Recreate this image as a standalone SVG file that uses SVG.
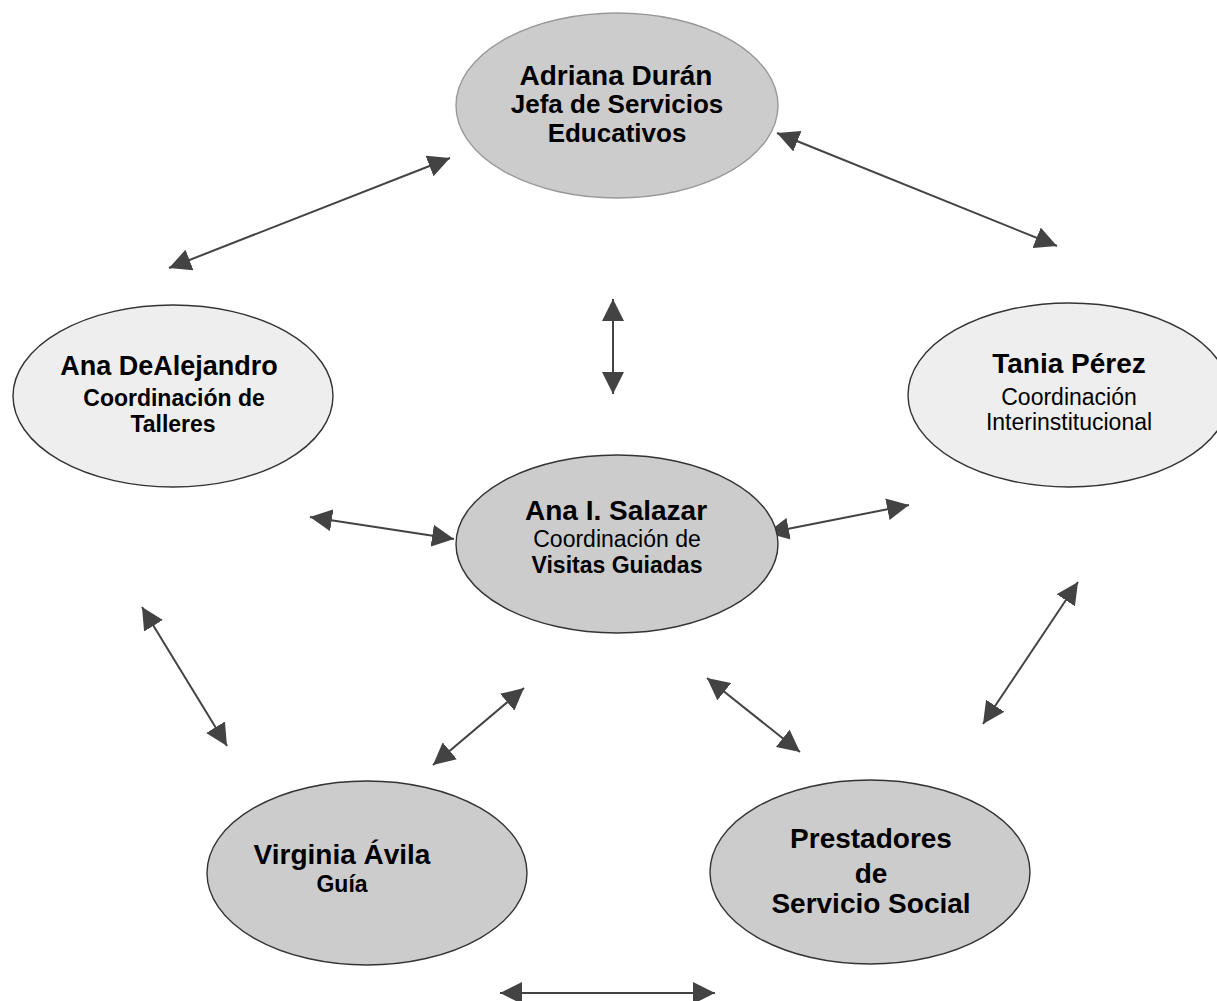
<svg xmlns="http://www.w3.org/2000/svg" width="1217" height="1001" viewBox="0 0 1217 1001">
<style>
text{font-family:"Liberation Sans",Arial,sans-serif;fill:#000;text-anchor:middle}
.b{font-weight:bold}
.dark{fill:#cccccc;stroke:#333;stroke-width:1.4}
.light{fill:#eeeeee;stroke:#333;stroke-width:1.4}
.top{fill:#cccccc;stroke:#999;stroke-width:1.4}
.c line{stroke:#434343;stroke-width:2;marker-start:url(#ah);marker-end:url(#ah)}
</style>
<defs>
<marker id="ah" markerUnits="userSpaceOnUse" markerWidth="22" markerHeight="22" viewBox="0 0 20 20" refX="20" refY="10" orient="auto-start-reverse">
<path d="M0,0 L20,10 L0,20 Z" fill="#434343"/>
</marker>
</defs>
<rect width="1217" height="1001" fill="#fff"/>
<g id="connectors" class="c">
<line x1="169" y1="268" x2="450" y2="158"/>
<line x1="777" y1="133" x2="1057" y2="246"/>
<line x1="613" y1="299" x2="613" y2="394"/>
<line x1="310" y1="517" x2="454" y2="539"/>
<line x1="767" y1="533" x2="909" y2="505"/>
<line x1="142" y1="607" x2="227" y2="746"/>
<line x1="524" y1="688" x2="433" y2="765"/>
<line x1="707" y1="678" x2="800" y2="752"/>
<line x1="1078" y1="582" x2="983" y2="724"/>
<line x1="500" y1="993" x2="715" y2="993"/>
</g>
<g id="adriana">
<ellipse class="top" cx="617" cy="105.5" rx="161" ry="92.5"/>
<text class="b" x="616" y="85" font-size="28">Adriana Durán</text>
<text class="b" x="617" y="113" font-size="26">Jefa de Servicios</text>
<text class="b" x="617" y="142" font-size="26">Educativos</text>
</g>
<g id="anadealejandro">
<ellipse class="light" cx="173" cy="396" rx="160" ry="91"/>
<text class="b" x="169" y="375" font-size="27">Ana DeAlejandro</text>
<text class="b" x="174" y="406" font-size="23">Coordinación de</text>
<text class="b" x="173" y="432" font-size="23">Talleres</text>
</g>
<g id="tania">
<ellipse class="light" cx="1069" cy="395" rx="161" ry="92"/>
<text class="b" x="1069" y="373" font-size="28">Tania Pérez</text>
<text x="1069" y="405" font-size="23">Coordinación</text>
<text x="1069" y="430" font-size="23">Interinstitucional</text>
</g>
<g id="salazar">
<ellipse class="dark" cx="617" cy="544" rx="161" ry="89"/>
<text class="b" x="616" y="520" font-size="28">Ana I. Salazar</text>
<text x="617" y="547" font-size="23">Coordinación de</text>
<text class="b" x="617" y="573" font-size="23">Visitas Guiadas</text>
</g>
<g id="virginia">
<ellipse class="dark" cx="367" cy="873" rx="160" ry="92"/>
<text class="b" x="342" y="864" font-size="28">Virginia Ávila</text>
<text class="b" x="342" y="892" font-size="23">Guía</text>
</g>
<g id="prestadores">
<ellipse class="dark" cx="870" cy="872" rx="160" ry="92"/>
<text class="b" x="871" y="848" font-size="28">Prestadores</text>
<text class="b" x="871" y="883" font-size="28">de</text>
<text class="b" x="871" y="913" font-size="28">Servicio Social</text>
</g>
</svg>
